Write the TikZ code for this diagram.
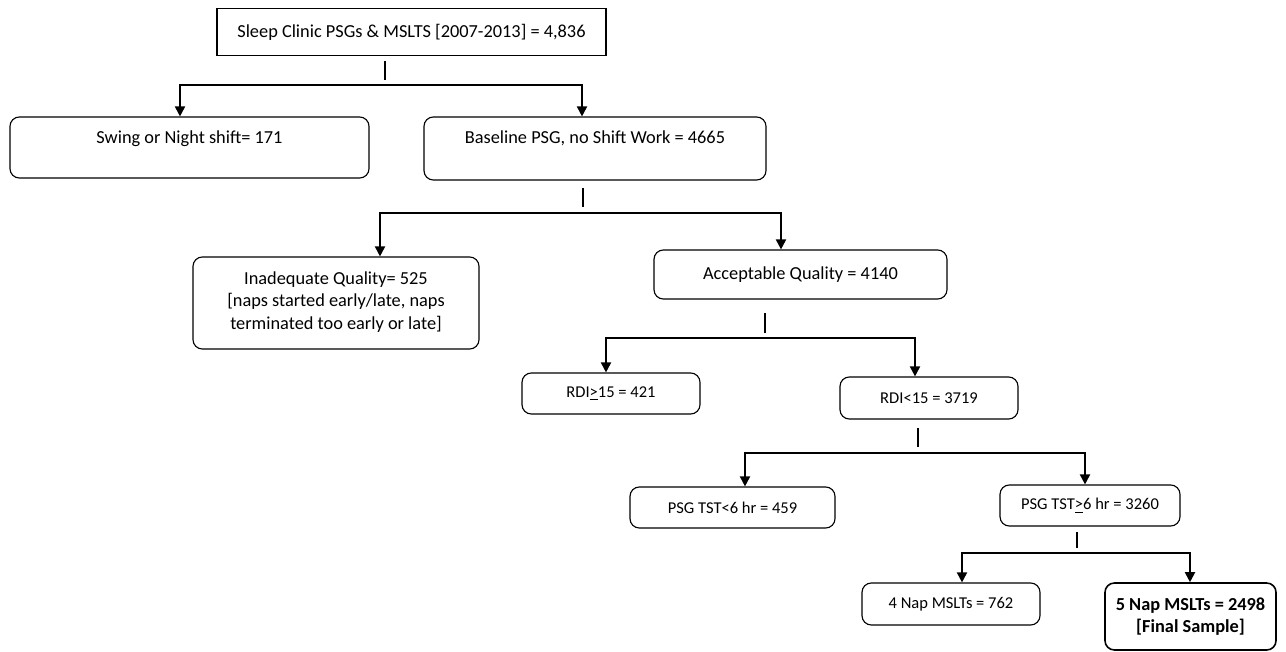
\documentclass[tikz,border=0pt]{standalone}
\usepackage{fontspec}
\setmainfont{Carlito}
\usetikzlibrary{arrows.meta}

\begin{document}
\begin{tikzpicture}[x=0.75pt,y=-0.75pt,
  box/.style={draw,line width=0.85pt,rounded corners=7pt,inner sep=0pt,align=center,
    font=\fontsize{13.75}{17}\selectfont},
  small/.style={font=\fontsize{12.4}{16}\selectfont},
  stem/.style={line width=1.4pt},
  branch/.style={line width=1.4pt,-{Triangle[width=7.5pt,length=7.5pt]}}]

\useasboundingbox (0,0) rectangle (1286,652);

% BOXES

% All recordings.
\node[box,sharp corners,minimum width=291.75pt,minimum height=35.25pt] (clinic) at (411.5,32)
  {Sleep Clinic PSGs \& MSLTS [2007-2013] = 4,836};

% Shift work split.
\node[box,minimum width=269.25pt,minimum height=45.75pt] (swing) at (189.5,147.5)
  {Swing or Night shift= 171\strut\\[-4pt]\strut};
\node[box,minimum width=256.5pt,minimum height=47.25pt] (baseline) at (595,148.5)
  {Baseline PSG, no Shift Work = 4665\strut\\[-3pt]\strut};

% Quality split.
\node[box,minimum width=214.5pt,minimum height=69pt] (inadequate) at (336,303)
  {Inadequate Quality= 525\\{}[naps started early/late, naps\\terminated too early or late]\\[-13pt]};
\node[box,minimum width=219.75pt,minimum height=36.75pt] (acceptable) at (800.5,274.5)
  {Acceptable Quality = 4140};

% RDI split.
\node[box,small,minimum width=133.5pt,minimum height=30.75pt] (rdihigh) at (611,393.5)
  {RDI\underline{>}15 = 421};
\node[box,small,minimum width=133.5pt,minimum height=31.5pt] (rdilow) at (929,398)
  {RDI<15 = 3719};

% TST split.
\node[box,small,minimum width=153.75pt,minimum height=30.75pt] (tstshort) at (732.5,507.5)
  {PSG TST<6 hr = 459};
\node[box,small,minimum width=135pt,minimum height=30.75pt] (tstlong) at (1090,505.5)
  {PSG TST\underline{>}6 hr = 3260};

% MSLT split.
\node[box,small,minimum width=133.5pt,minimum height=31.5pt] (napfour) at (951,604)
  {4 Nap MSLTs = 762};
\node[box,line width=1.2pt,font=\fontsize{13.75}{16}\selectfont\bfseries,
  minimum width=128.25pt,minimum height=50.25pt] (napfive) at (1190.5,616.5)
  {5 Nap MSLTs = 2498\\{}[Final Sample]};

% CONNECTIONS

% Clinic -> swing / baseline.
\coordinate (j1) at (385,85);
\draw[stem] (j1) ++(0,-5) -- ++(0,-19);
\draw[branch] (j1) -| (180,0 |- swing.north);
\draw[branch] (j1) -| (582,0 |- baseline.north);

% Baseline -> inadequate / acceptable.
\coordinate (j2) at (583,213);
\draw[stem] (j2) ++(0,-6) -- ++(0,-19);
\draw[branch] (j2) -| (380,0 |- inadequate.north);
\draw[branch] (j2) -| (781,0 |- acceptable.north);

% Acceptable -> RDI.
\coordinate (j3) at (765,338);
\draw[stem] (j3) ++(0,-5) -- ++(0,-20);
\draw[branch] (j3) -| (606,0 |- rdihigh.north);
\draw[branch] (j3) -| (915,0 |- rdilow.north);

% RDI<15 -> TST.
\coordinate (j4) at (918,453);
\draw[stem] (j4) ++(0,-6) -- ++(0,-19);
\draw[branch] (j4) -| (745,0 |- tstshort.north);
\draw[branch] (j4) -| (1085,0 |- tstlong.north);

% TST>6 -> naps.
\coordinate (j5) at (1077,553);
\draw[stem] (j5) ++(0,-5) -- ++(0,-16);
\draw[branch] (j5) -| (962,0 |- napfour.north);
\draw[branch] (j5) -| (1190,0 |- napfive.north);

\end{tikzpicture}
\end{document}
